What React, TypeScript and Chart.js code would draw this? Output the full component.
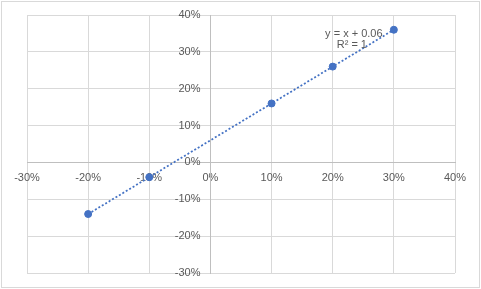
import React, { useEffect, useRef } from "react";
import { Chart, registerables } from "chart.js";

Chart.register(...registerables);

const xValues = [-0.2, -0.1, 0.1, 0.2, 0.3];
const yValues = [-0.14, -0.04, 0.16, 0.26, 0.36];
const trendX = [-0.2, 0.3];
const trendY = [-0.14, 0.36];
const trendLabel = ["y = x + 0.06", "R² = 1"];
const axisMin = -0.3;
const axisMax = 0.4;
const axisStep = 0.1;

const FONT = "'Liberation Sans', Arial, sans-serif";
const TEXT = "#595959";
const BLUE = "#4472C4";

const fmt = (v: number) => `${Math.round(v * 100)}%`;

const extras = {
  id: "extras",
  beforeDraw(chart: any) {
    const { ctx } = chart;
    ctx.save();
    ctx.fillStyle = "#ffffff";
    ctx.fillRect(0, 0, chart.width, chart.height);
    ctx.strokeStyle = "#d9d9d9";
    ctx.lineWidth = 1;
    ctx.strokeRect(1.5, 1.5, chart.width - 3, chart.height - 3);
    ctx.restore();
  },
  afterDatasetsDraw(chart: any) {
    const { ctx } = chart;
    const xs = chart.scales.x;
    const ys = chart.scales.y;
    ctx.save();
    ctx.font = `11px ${FONT}`;
    ctx.fillStyle = TEXT;
    ctx.textAlign = "right";
    ctx.textBaseline = "middle";
    const x0 = xs.getPixelForValue(0);
    ys.ticks.forEach((t: any) => {
      ctx.fillText(fmt(t.value), x0 - 10, ys.getPixelForValue(t.value));
    });
    // trendline label
    const lx = xs.getPixelForValue(trendX[1]);
    const ly = ys.getPixelForValue(trendY[1]);
    ctx.textAlign = "center";
    ctx.fillText(trendLabel[0], lx - 40, ly + 4);
    ctx.fillText(trendLabel[1], lx - 42, ly + 15);
    ctx.restore();
  },
};

export default function App() {
  const ref = useRef<HTMLCanvasElement>(null);
  useEffect(() => {
    document.body.style.margin = "0";
    const canvas = ref.current!;
    const chart = new Chart(canvas, {
      type: "scatter",
      data: {
        datasets: [
          {
            label: "Trend",
            data: trendX.map((x, i) => ({ x, y: trendY[i] })),
            showLine: true,
            borderColor: BLUE,
            borderWidth: 1.75,
            borderDash: [2, 2],
            pointRadius: 0,
            order: 2,
          },
          {
            label: "Data",
            data: xValues.map((x, i) => ({ x, y: yValues[i] })),
            backgroundColor: BLUE,
            borderColor: BLUE,
            borderWidth: 1,
            pointRadius: 3.5,
            order: 1,
          },
        ],
      },
      options: {
        responsive: false,
        animation: false,
        layout: { padding: { left: 27, top: 15, right: 26, bottom: 16 } },
        plugins: { legend: { display: false }, tooltip: { enabled: false } },
        scales: {
          x: {
            type: "linear",
            position: { y: 0 } as any,
            min: axisMin,
            max: axisMax,
            afterFit: (s: any) => {
              s.height = 0;
            },
            ticks: {
              stepSize: axisStep,
              callback: (v: any) => fmt(Number(v)),
              color: TEXT,
              font: { family: FONT, size: 11 },
              padding: 9,
              maxRotation: 0,
            },
            grid: { color: "#d9d9d9", drawTicks: false },
            border: { color: "#bfbfbf", width: 1 },
          },
          y: {
            type: "linear",
            position: { x: 0 } as any,
            min: axisMin,
            max: axisMax,
            afterFit: (s: any) => {
              s.width = 0;
            },
            ticks: { stepSize: axisStep, display: false },
            grid: { color: "#d9d9d9", drawTicks: false },
            border: { color: "#bfbfbf", width: 1 },
          },
        },
      },
      plugins: [extras],
    });
    return () => chart.destroy();
  }, []);
  return (
    <div style={{ width: 481, height: 289 }}>
      <canvas ref={ref} width={481} height={289} style={{ display: "block" }} />
    </div>
  );
}
